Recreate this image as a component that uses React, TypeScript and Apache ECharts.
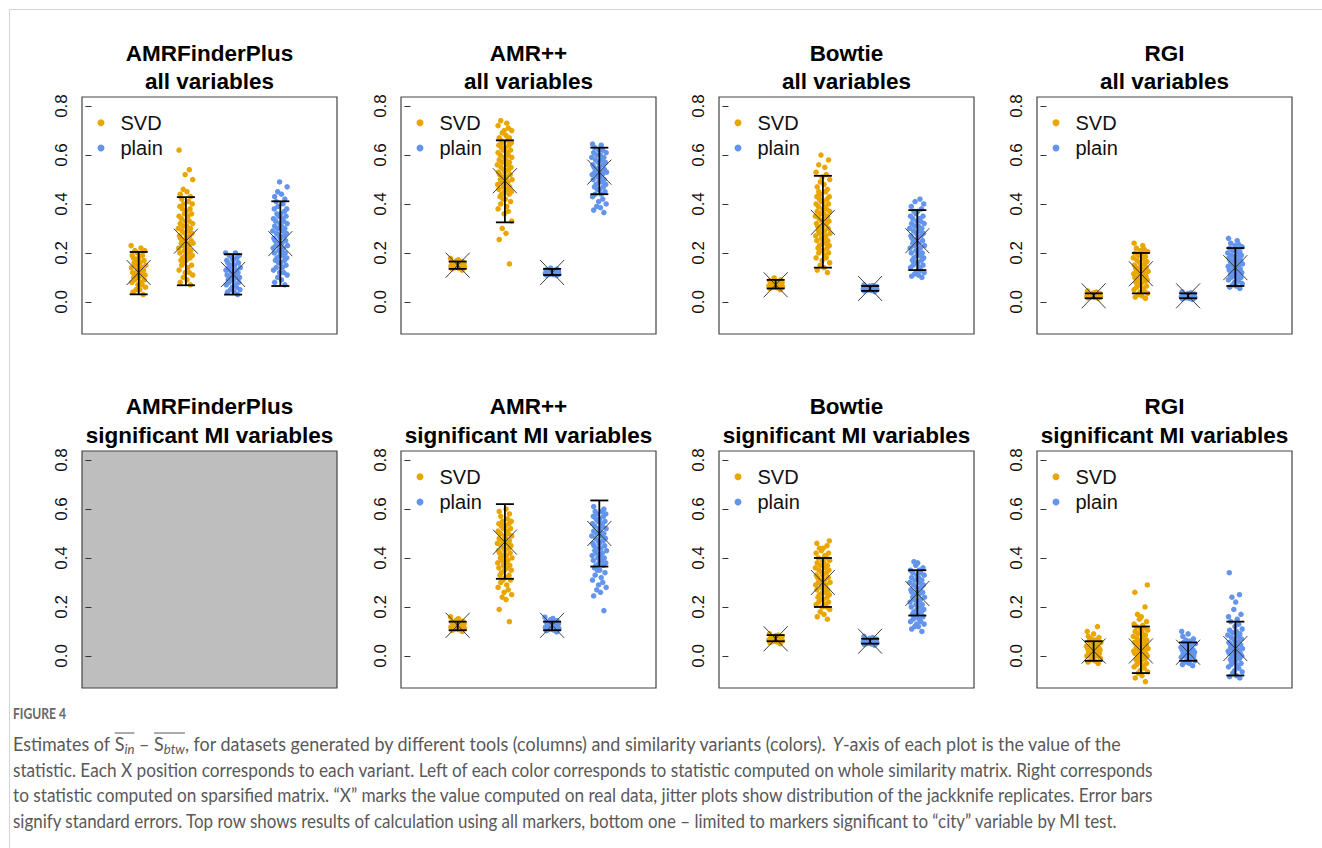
import React, { useEffect, useRef } from "react";
import * as echarts from "echarts";

// ---------- data ----------
const panelTitles = [
  ["AMRFinderPlus", "all variables"],
  ["AMR++", "all variables"],
  ["Bowtie", "all variables"],
  ["RGI", "all variables"],
  ["AMRFinderPlus", "significant MI variables"],
  ["AMR++", "significant MI variables"],
  ["Bowtie", "significant MI variables"],
  ["RGI", "significant MI variables"],
];
const legendNames = ["SVD", "plain"];
const groupX = [1, 2, 3, 4];
const yTicks = [0, 0.2, 0.4, 0.6, 0.8];
const jitter = [0.12,-0.15,0.03,-0.07,0.18,-0.02,0.09,-0.18,0.05,-0.11,0.15,-0.05,0.01,-0.13,0.11,-0.09,0.17,-0.01,0.07,-0.16,0.13,-0.04,0.02,-0.19,0.08,-0.08,0.19,-0.12,0.04,-0.06,0.14,-0.14,0.0,-0.17,0.1,-0.03,0.16,-0.1,0.06,-0.2,0.12,-0.07,0.03,-0.15,0.18,-0.01,0.09,-0.12,0.05,-0.18,0.15,-0.04,0.01,-0.09,0.11,-0.16,0.17,-0.06,0.07,-0.11];

// AMRFinderPlus, all variables
const amrfAllSvdWhole = [0.03,0.04,0.05,0.05,0.06,0.07,0.07,0.08,0.08,0.09,0.09,0.1,0.1,0.1,0.11,0.11,0.11,0.12,0.12,0.12,0.13,0.13,0.13,0.14,0.14,0.15,0.15,0.16,0.16,0.17,0.17,0.18,0.18,0.19,0.19,0.2,0.21,0.21,0.22,0.23];
const amrfAllSvdSparse = [0.07,0.08,0.09,0.1,0.11,0.12,0.12,0.13,0.14,0.15,0.15,0.16,0.17,0.17,0.18,0.18,0.19,0.19,0.2,0.2,0.21,0.21,0.22,0.22,0.23,0.23,0.24,0.24,0.24,0.25,0.25,0.26,0.26,0.27,0.27,0.28,0.28,0.29,0.29,0.3,0.3,0.31,0.31,0.32,0.32,0.33,0.33,0.34,0.35,0.35,0.36,0.36,0.37,0.38,0.38,0.39,0.4,0.4,0.41,0.42,0.43,0.44,0.45,0.46,0.5,0.52,0.54,0.62];
const amrfAllPlainWhole = [0.03,0.04,0.04,0.05,0.05,0.06,0.06,0.07,0.07,0.08,0.08,0.09,0.09,0.09,0.1,0.1,0.1,0.11,0.11,0.11,0.12,0.12,0.12,0.13,0.13,0.13,0.14,0.14,0.15,0.15,0.16,0.16,0.17,0.17,0.18,0.18,0.19,0.19,0.2,0.2];
const amrfAllPlainSparse = [0.07,0.08,0.09,0.1,0.11,0.12,0.12,0.13,0.14,0.14,0.15,0.16,0.16,0.17,0.17,0.18,0.18,0.19,0.19,0.2,0.2,0.21,0.21,0.22,0.22,0.23,0.23,0.23,0.24,0.24,0.25,0.25,0.26,0.26,0.27,0.27,0.28,0.28,0.29,0.29,0.3,0.3,0.31,0.31,0.32,0.32,0.33,0.33,0.34,0.34,0.35,0.35,0.36,0.36,0.37,0.38,0.38,0.39,0.4,0.41,0.42,0.43,0.44,0.45,0.47,0.49];
const amrfAllReal = [0.12, 0.248, 0.112, 0.238];
const amrfAllLo = [0.031, 0.068, 0.03, 0.065];
const amrfAllHi = [0.204, 0.428, 0.195, 0.411];

// AMR++, all variables
const amrppAllSvdWhole = [0.13,0.135,0.138,0.14,0.142,0.144,0.145,0.146,0.148,0.149,0.15,0.151,0.152,0.153,0.154,0.155,0.156,0.158,0.16,0.162,0.165,0.168,0.172,0.178];
const amrppAllSvdSparse = [0.155,0.255,0.28,0.3,0.33,0.36,0.37,0.38,0.39,0.4,0.41,0.42,0.42,0.43,0.44,0.44,0.45,0.45,0.46,0.46,0.47,0.47,0.48,0.48,0.49,0.49,0.5,0.5,0.51,0.51,0.52,0.52,0.53,0.53,0.54,0.54,0.55,0.55,0.56,0.56,0.57,0.57,0.58,0.58,0.59,0.59,0.6,0.6,0.61,0.61,0.62,0.62,0.63,0.63,0.64,0.64,0.65,0.65,0.66,0.66,0.67,0.67,0.68,0.69,0.7,0.7,0.71,0.72,0.73,0.74];
const amrppAllPlainWhole = [0.108,0.11,0.112,0.113,0.114,0.115,0.116,0.117,0.118,0.119,0.12,0.121,0.122,0.123,0.124,0.125,0.126,0.127,0.129,0.131,0.134,0.138];
const amrppAllPlainSparse = [0.365,0.375,0.385,0.39,0.4,0.41,0.42,0.43,0.44,0.44,0.45,0.46,0.46,0.47,0.47,0.48,0.48,0.49,0.49,0.5,0.5,0.51,0.51,0.52,0.52,0.52,0.53,0.53,0.53,0.54,0.54,0.55,0.55,0.56,0.56,0.57,0.57,0.58,0.58,0.59,0.59,0.6,0.6,0.61,0.61,0.62,0.62,0.63,0.64,0.645];
const amrppAllReal = [0.15, 0.495, 0.12, 0.53];
const amrppAllLo = [0.135, 0.325, 0.11, 0.44];
const amrppAllHi = [0.165, 0.66, 0.135, 0.63];

// Bowtie, all variables
const bowtieAllSvdWhole = [0.05,0.055,0.058,0.06,0.062,0.064,0.065,0.066,0.068,0.069,0.07,0.071,0.072,0.074,0.075,0.076,0.078,0.08,0.083,0.086,0.09,0.098];
const bowtieAllSvdSparse = [0.12,0.13,0.14,0.15,0.16,0.17,0.18,0.18,0.19,0.2,0.2,0.21,0.21,0.22,0.22,0.23,0.23,0.24,0.24,0.25,0.25,0.26,0.26,0.27,0.27,0.28,0.28,0.29,0.29,0.3,0.3,0.31,0.31,0.32,0.32,0.33,0.33,0.34,0.34,0.35,0.35,0.36,0.36,0.37,0.37,0.38,0.38,0.39,0.39,0.4,0.4,0.41,0.41,0.42,0.42,0.43,0.43,0.44,0.45,0.45,0.46,0.47,0.48,0.49,0.5,0.51,0.52,0.53,0.55,0.56,0.58,0.6];
const bowtieAllPlainWhole = [0.042,0.045,0.047,0.048,0.05,0.051,0.052,0.053,0.054,0.055,0.056,0.057,0.058,0.059,0.06,0.061,0.063,0.065,0.067,0.07];
const bowtieAllPlainSparse = [0.1,0.105,0.11,0.115,0.12,0.125,0.13,0.14,0.14,0.15,0.15,0.16,0.16,0.17,0.17,0.18,0.18,0.19,0.19,0.2,0.2,0.21,0.21,0.22,0.22,0.23,0.23,0.24,0.24,0.25,0.25,0.26,0.26,0.27,0.27,0.28,0.28,0.29,0.29,0.3,0.3,0.31,0.31,0.32,0.32,0.33,0.33,0.34,0.34,0.35,0.35,0.36,0.37,0.37,0.38,0.39,0.4,0.41,0.42];
const bowtieAllReal = [0.07, 0.325, 0.055, 0.25];
const bowtieAllLo = [0.055, 0.14, 0.045, 0.13];
const bowtieAllHi = [0.09, 0.515, 0.065, 0.375];

// RGI, all variables
const rgiAllSvdWhole = [0.015,0.017,0.019,0.02,0.021,0.022,0.023,0.024,0.025,0.026,0.027,0.028,0.029,0.03,0.031,0.032,0.034,0.036,0.04,0.045];
const rgiAllSvdSparse = [0.015,0.02,0.025,0.03,0.035,0.04,0.045,0.05,0.055,0.06,0.065,0.07,0.075,0.08,0.085,0.09,0.09,0.095,0.1,0.1,0.105,0.11,0.11,0.115,0.12,0.12,0.125,0.13,0.13,0.135,0.14,0.14,0.145,0.15,0.155,0.16,0.165,0.17,0.175,0.18,0.185,0.19,0.195,0.2,0.205,0.21,0.215,0.22,0.23,0.24];
const rgiAllPlainWhole = [0.01,0.013,0.015,0.017,0.018,0.019,0.02,0.021,0.022,0.023,0.024,0.025,0.026,0.027,0.028,0.03,0.032,0.034,0.037,0.041];
const rgiAllPlainSparse = [0.055,0.06,0.065,0.07,0.075,0.08,0.085,0.09,0.095,0.1,0.1,0.105,0.11,0.11,0.115,0.12,0.12,0.125,0.13,0.13,0.135,0.14,0.14,0.145,0.15,0.15,0.155,0.16,0.16,0.165,0.17,0.17,0.175,0.18,0.18,0.185,0.19,0.19,0.195,0.2,0.205,0.21,0.215,0.22,0.225,0.23,0.235,0.24,0.25,0.26];
const rgiAllReal = [0.025, 0.115, 0.025, 0.14];
const rgiAllLo = [0.015, 0.035, 0.015, 0.065];
const rgiAllHi = [0.035, 0.2, 0.035, 0.22];

// AMR++, significant MI variables
const amrppMiSvdWhole = [0.1,0.104,0.107,0.11,0.112,0.114,0.116,0.118,0.12,0.121,0.122,0.124,0.125,0.126,0.128,0.13,0.132,0.134,0.136,0.139,0.142,0.146,0.152,0.16];
const amrppMiSvdSparse = [0.14,0.19,0.23,0.24,0.25,0.26,0.27,0.28,0.29,0.3,0.31,0.31,0.32,0.33,0.33,0.34,0.35,0.35,0.36,0.36,0.37,0.37,0.38,0.38,0.39,0.39,0.4,0.4,0.41,0.41,0.42,0.42,0.43,0.43,0.44,0.44,0.45,0.45,0.46,0.46,0.47,0.47,0.48,0.48,0.49,0.49,0.5,0.5,0.51,0.51,0.52,0.52,0.53,0.53,0.54,0.54,0.55,0.55,0.56,0.57,0.58,0.59,0.6];
const amrppMiPlainWhole = [0.098,0.103,0.106,0.109,0.111,0.113,0.115,0.117,0.119,0.12,0.122,0.123,0.125,0.126,0.128,0.13,0.132,0.134,0.137,0.14,0.144,0.148,0.153,0.158];
const amrppMiPlainSparse = [0.185,0.245,0.26,0.27,0.28,0.29,0.3,0.31,0.32,0.33,0.34,0.35,0.35,0.36,0.37,0.37,0.38,0.38,0.39,0.39,0.4,0.4,0.41,0.41,0.42,0.42,0.43,0.43,0.44,0.44,0.45,0.45,0.46,0.46,0.47,0.47,0.48,0.48,0.49,0.49,0.5,0.5,0.51,0.51,0.52,0.52,0.53,0.53,0.54,0.54,0.55,0.55,0.56,0.56,0.57,0.57,0.58,0.58,0.59,0.59,0.6,0.61];
const amrppMiReal = [0.125, 0.465, 0.125, 0.5];
const amrppMiLo = [0.105, 0.315, 0.105, 0.365];
const amrppMiHi = [0.14, 0.62, 0.14, 0.635];

// Bowtie, significant MI variables
const bowtieMiSvdWhole = [0.05,0.054,0.057,0.059,0.061,0.063,0.064,0.066,0.067,0.068,0.07,0.071,0.072,0.074,0.075,0.077,0.079,0.082,0.085,0.09];
const bowtieMiSvdSparse = [0.15,0.16,0.17,0.18,0.19,0.2,0.2,0.21,0.21,0.22,0.22,0.23,0.23,0.24,0.24,0.25,0.25,0.26,0.26,0.27,0.27,0.28,0.28,0.29,0.29,0.3,0.3,0.3,0.31,0.31,0.32,0.32,0.33,0.33,0.34,0.34,0.35,0.35,0.36,0.36,0.37,0.37,0.38,0.38,0.39,0.39,0.4,0.4,0.41,0.42,0.42,0.43,0.44,0.44,0.45,0.46,0.47];
const bowtieMiPlainWhole = [0.044,0.047,0.049,0.051,0.053,0.054,0.055,0.057,0.058,0.059,0.06,0.061,0.062,0.064,0.065,0.067,0.069,0.072,0.075,0.08];
const bowtieMiPlainSparse = [0.1,0.11,0.12,0.12,0.13,0.13,0.14,0.14,0.15,0.15,0.16,0.16,0.17,0.17,0.18,0.18,0.19,0.19,0.2,0.2,0.21,0.21,0.22,0.22,0.23,0.23,0.24,0.24,0.25,0.25,0.26,0.26,0.27,0.27,0.28,0.28,0.29,0.29,0.3,0.3,0.31,0.31,0.32,0.32,0.33,0.33,0.34,0.34,0.35,0.35,0.36,0.37,0.38,0.385];
const bowtieMiReal = [0.07, 0.3, 0.06, 0.255];
const bowtieMiLo = [0.06, 0.2, 0.05, 0.165];
const bowtieMiHi = [0.085, 0.4, 0.07, 0.35];

// RGI, significant MI variables
const rgiMiSvdWhole = [-0.03,-0.025,-0.02,-0.015,-0.01,-0.005,0,0,0.005,0.005,0.01,0.01,0.015,0.015,0.02,0.02,0.025,0.025,0.03,0.03,0.035,0.035,0.04,0.04,0.045,0.05,0.055,0.06,0.065,0.07,0.075,0.08,0.09,0.1,0.12];
const rgiMiSvdSparse = [-0.105,-0.09,-0.08,-0.07,-0.065,-0.06,-0.05,-0.045,-0.04,-0.035,-0.03,-0.025,-0.02,-0.015,-0.01,-0.005,0,0,0.005,0.01,0.01,0.015,0.02,0.02,0.025,0.03,0.03,0.035,0.04,0.04,0.045,0.05,0.05,0.055,0.06,0.06,0.065,0.07,0.075,0.08,0.085,0.09,0.095,0.1,0.105,0.11,0.115,0.12,0.125,0.13,0.14,0.15,0.16,0.17,0.2,0.26,0.29];
const rgiMiPlainWhole = [-0.04,-0.035,-0.03,-0.025,-0.02,-0.015,-0.01,-0.005,-0.005,0,0,0.005,0.005,0.01,0.01,0.015,0.015,0.02,0.02,0.025,0.025,0.03,0.03,0.035,0.04,0.045,0.05,0.055,0.06,0.065,0.07,0.08,0.09,0.1];
const rgiMiPlainSparse = [-0.09,-0.085,-0.08,-0.07,-0.065,-0.06,-0.05,-0.045,-0.04,-0.035,-0.03,-0.025,-0.02,-0.015,-0.01,-0.005,0,0,0.005,0.01,0.01,0.015,0.02,0.02,0.025,0.03,0.03,0.035,0.04,0.04,0.045,0.05,0.05,0.055,0.06,0.065,0.07,0.075,0.08,0.085,0.09,0.095,0.1,0.105,0.11,0.12,0.13,0.14,0.15,0.16,0.17,0.19,0.22,0.24,0.25,0.34];
const rgiMiReal = [0.02, 0.02, 0.015, 0.03];
const rgiMiLo = [-0.02, -0.07, -0.02, -0.08];
const rgiMiHi = [0.06, 0.12, 0.055, 0.14];

type Panel = { clouds: number[][]; real: number[]; lo: number[]; hi: number[] } | null;
const panels: Panel[] = [
  { clouds: [amrfAllSvdWhole, amrfAllSvdSparse, amrfAllPlainWhole, amrfAllPlainSparse], real: amrfAllReal, lo: amrfAllLo, hi: amrfAllHi },
  { clouds: [amrppAllSvdWhole, amrppAllSvdSparse, amrppAllPlainWhole, amrppAllPlainSparse], real: amrppAllReal, lo: amrppAllLo, hi: amrppAllHi },
  { clouds: [bowtieAllSvdWhole, bowtieAllSvdSparse, bowtieAllPlainWhole, bowtieAllPlainSparse], real: bowtieAllReal, lo: bowtieAllLo, hi: bowtieAllHi },
  { clouds: [rgiAllSvdWhole, rgiAllSvdSparse, rgiAllPlainWhole, rgiAllPlainSparse], real: rgiAllReal, lo: rgiAllLo, hi: rgiAllHi },
  null, // AMRFinderPlus, significant MI variables: no data (grey panel)
  { clouds: [amrppMiSvdWhole, amrppMiSvdSparse, amrppMiPlainWhole, amrppMiPlainSparse], real: amrppMiReal, lo: amrppMiLo, hi: amrppMiHi },
  { clouds: [bowtieMiSvdWhole, bowtieMiSvdSparse, bowtieMiPlainWhole, bowtieMiPlainSparse], real: bowtieMiReal, lo: bowtieMiLo, hi: bowtieMiHi },
  { clouds: [rgiMiSvdWhole, rgiMiSvdSparse, rgiMiPlainWhole, rgiMiPlainSparse], real: rgiMiReal, lo: rgiMiLo, hi: rgiMiHi },
];

const figureLabel = "FIGURE 4";
const captionLines = [
  "statistic. Each X position corresponds to each variant. Left of each color corresponds to statistic computed on whole similarity matrix. Right corresponds",
  "to statistic computed on sparsified matrix. \u201cX\u201d marks the value computed on real data, jitter plots show distribution of the jackknife replicates. Error bars",
  "signify standard errors. Top row shows results of calculation using all markers, bottom one \u2013 limited to markers significant to \u201ccity\u201d variable by MI test.",
];

// ---------- layout / style ----------
const ORANGE = "#E9A600";
const BLUE = "#6495ED";
const panelLeft = [82, 401, 719, 1037];
const panelTop = [97, 451];
const PW = 255;
const PH = 237;
const JITTER_WIDTH = 0.8;
const titleY = [[53, 81.7], [406.7, 435]];
const capX = 13;
const capLineEnds = [1122, 1156, 1156, 1119];
const capY = [744, 769.5, 795, 820.5];
const figY = 713;

function buildCaption(): any[] {
  const canvas = document.createElement("canvas");
  const ctx = canvas.getContext("2d") as CanvasRenderingContext2D;
  const FN = "19px Lato";
  const FI = "italic 19px Lato";
  const FS = "italic 14px Lato";
  const FF = "bold 16px Lato";
  const meas = (font: string, t: string) => { ctx.font = font; return ctx.measureText(t).width; };
  const color = "#595959";
  const els: any[] = [];
  const txt = (x: number, y: number, text: string, font: string, sx: number, fill = color) => ({
    type: "text", x, y, scaleX: sx, silent: true,
    style: { text, font, fill, align: "left", verticalAlign: "middle" },
  });
  els.push(txt(capX, figY, figureLabel, FF, 53 / meas(FF, figureLabel), "#676767"));
  const frags: { t: string; f: string; sub?: boolean; ol?: string }[] = [
    { t: "Estimates of ", f: FN },
    { t: "S", f: FN, ol: "start" },
    { t: "in", f: FS, sub: true, ol: "end" },
    { t: " \u2013 ", f: FN },
    { t: "S", f: FN, ol: "start" },
    { t: "btw", f: FS, sub: true, ol: "end" },
    { t: ", for datasets generated by different tools (columns) and similarity variants (colors). ", f: FN },
    { t: "Y", f: FI },
    { t: "-axis of each plot is the value of the", f: FN },
  ];
  const total1 = frags.reduce((a, fr) => a + meas(fr.f, fr.t), 0);
  const s1 = (capLineEnds[0] - capX) / total1;
  let x = capX;
  let olStart = 0;
  const y1 = capY[0];
  for (const fr of frags) {
    const w = meas(fr.f, fr.t) * s1;
    if (fr.ol === "start") olStart = x;
    els.push(txt(x, fr.sub ? y1 + 5 : y1, fr.t, fr.f, s1));
    x += w;
    if (fr.ol === "end") {
      els.push({ type: "line", silent: true, shape: { x1: olStart, y1: y1 - 11, x2: x, y2: y1 - 11 }, style: { stroke: color, lineWidth: 1 } });
    }
  }
  captionLines.forEach((line, i) => {
    const s = (capLineEnds[i + 1] - capX) / meas(FN, line);
    els.push(txt(capX, capY[i + 1], line, FN, s));
  });
  return els;
}

function buildOption(): any {
  const grid: any[] = [];
  const xAxis: any[] = [];
  const yAxis: any[] = [];
  const series: any[] = [];
  const legend: any[] = [];
  const graphic: any[] = [];

  graphic.push({ type: "line", silent: true, shape: { x1: 9.5, y1: 9.5, x2: 1322, y2: 9.5 }, style: { stroke: "#d4d4d4", lineWidth: 1 } });
  graphic.push({ type: "line", silent: true, shape: { x1: 9.5, y1: 9.5, x2: 9.5, y2: 848 }, style: { stroke: "#d4d4d4", lineWidth: 1 } });

  for (let p = 0; p < 8; p++) {
    const row = Math.floor(p / 4);
    const col = p % 4;
    const left = panelLeft[col];
    const top = panelTop[row];
    const panel = panels[p];
    grid.push({
      left, top, width: PW, height: PH, show: true,
      borderColor: "#444", borderWidth: 1.2,
      backgroundColor: panel ? "transparent" : "#BEBEBE",
    });
    xAxis.push({ type: "value", gridIndex: p, min: -0.2, max: 5.2, show: false });
    yAxis.push({
      type: "value", gridIndex: p, min: -0.131, max: 0.837,
      axisLine: { show: false },
      splitLine: { show: false },
      axisTick: { show: true, length: 6, lineStyle: { color: "#333", width: 1 }, customValues: yTicks },
      axisLabel: { show: false },
    });
    panelTitles[p].forEach((t, k) => {
      graphic.push({
        type: "text", x: left + PW / 2, y: titleY[row][k], silent: true,
        style: { text: t, font: "bold 22.5px 'Liberation Sans'", fill: "#000", align: "center", verticalAlign: "middle" },
      });
    });
    if (!panel) {
      series.push({ type: "scatter", name: "empty", xAxisIndex: p, yAxisIndex: p, data: [] });
      continue;
    }
    legend.push({
      left: left + 15.5, top: top + 15.7, orient: "vertical", icon: "circle",
      itemWidth: 7, itemHeight: 7, itemGap: 5.3, padding: 0, selectedMode: false,
      data: legendNames,
      textStyle: { fontFamily: "Liberation Sans", fontSize: 20, lineHeight: 20, color: "#111", padding: [0, 0, 0, 11] },
    });
    const pts = (g: number) =>
      panel.clouds[g].map((v, i) => [groupX[g] + JITTER_WIDTH * jitter[i % jitter.length], v]);
    series.push({
      type: "scatter", name: legendNames[0], xAxisIndex: p, yAxisIndex: p, silent: true,
      symbolSize: 5.5, itemStyle: { color: ORANGE, opacity: 1 }, z: 2,
      data: [...pts(0), ...pts(1)],
    });
    series.push({
      type: "scatter", name: legendNames[1], xAxisIndex: p, yAxisIndex: p, silent: true,
      symbolSize: 5.5, itemStyle: { color: BLUE, opacity: 1 }, z: 2,
      data: [...pts(2), ...pts(3)],
    });
    series.push({
      type: "custom", name: "estimate", xAxisIndex: p, yAxisIndex: p, silent: true, z: 3,
      encode: { x: 0, y: [1, 2, 3] },
      data: groupX.map((gx, g) => [gx, panel.real[g], panel.lo[g], panel.hi[g]]),
      renderItem: (_params: any, api: any) => {
        const gx = api.value(0);
        const c = api.coord([gx, api.value(1)]);
        const lo = api.coord([gx, api.value(2)]);
        const hi = api.coord([gx, api.value(3)]);
        const xs = { stroke: "#3d3d3d", lineWidth: 1 };
        const bs = { stroke: "#000", lineWidth: 1.8 };
        return {
          type: "group",
          children: [
            { type: "line", shape: { x1: c[0] - 12, y1: c[1] - 12.5, x2: c[0] + 12, y2: c[1] + 12.5 }, style: xs },
            { type: "line", shape: { x1: c[0] - 12, y1: c[1] + 12.5, x2: c[0] + 12, y2: c[1] - 12.5 }, style: xs },
            { type: "line", shape: { x1: lo[0], y1: lo[1], x2: hi[0], y2: hi[1] }, style: bs },
            { type: "line", shape: { x1: lo[0] - 9, y1: lo[1], x2: lo[0] + 9, y2: lo[1] }, style: bs },
            { type: "line", shape: { x1: hi[0] - 9, y1: hi[1], x2: hi[0] + 9, y2: hi[1] }, style: bs },
          ],
        };
      },
    });
  }

  graphic.push(...buildCaption());

  return {
    animation: false,
    backgroundColor: "#fff",
    grid, xAxis, yAxis, series, legend, graphic,
  };
}

export default function App() {
  const ref = useRef<HTMLDivElement>(null);
  useEffect(() => {
    if (!ref.current) return;
    const chart = echarts.init(ref.current, undefined, { renderer: "svg" });
    const option = buildOption();
    chart.setOption(option);
    // rotated y tick labels placed through each axis' own scale
    const labels: any[] = [];
    for (let p = 0; p < 8; p++) {
      const left = panelLeft[p % 4];
      yTicks.forEach((v) => {
        const py = chart.convertToPixel({ yAxisIndex: p }, v) as number;
        labels.push({
          type: "text", x: left - 21, y: py, rotation: Math.PI / 2, silent: true,
          style: { text: v.toFixed(1), font: "17px 'Liberation Sans'", fill: "#111", align: "center", verticalAlign: "middle" },
        });
      });
    }
    chart.setOption({ graphic: [...option.graphic, ...labels] });
    return () => chart.dispose();
  }, []);
  return (
    <div
      ref={ref}
      style={{ position: "fixed", left: 0, top: 0, width: 1322, height: 848, background: "#fff" }}
    />
  );
}
